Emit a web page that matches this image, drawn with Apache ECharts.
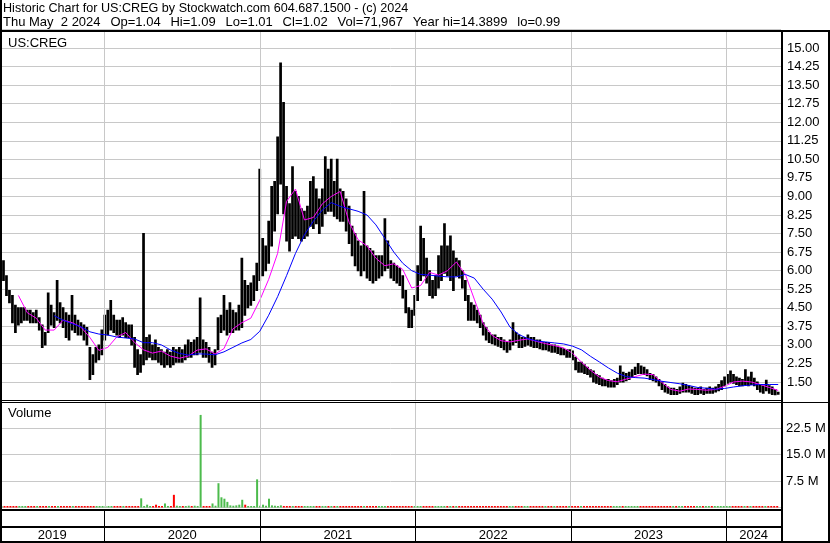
<!DOCTYPE html>
<html><head><meta charset="utf-8">
<script src="https://cdn.jsdelivr.net/npm/echarts@6/dist/echarts.min.js"></script>
<style>html,body{margin:0;padding:0;background:#fff}#c{width:830px;height:543px}</style>
</head><body><div id="c"></div>
<script>
// ---------- data (weekly samples) ----------
const startDate = '2019-05-02';      // first weekly sample
const endDate = '2024-05-02';        // last weekly sample
const yearLabels = ['2019','2020','2021','2022','2023','2024'];
const yearStarts = ['2020-01-01','2021-01-01','2022-01-01','2023-01-01','2024-01-01'];

const high = [6.6,6.4,5.8,5.2,5.0,4.6,4.5,4.5,4.5,4.4,
4.4,4.3,4.4,4.1,3.8,3.5,5.1,4.6,4.3,5.6,
4.7,4.5,4.3,4.2,5.0,4.2,4.0,3.9,3.8,3.7,
2.9,2.6,2.9,3.0,3.6,4.2,4.4,4.8,4.2,4.0,
4.0,4.1,3.9,3.8,3.8,3.3,2.8,2.6,7.5,3.3,
3.4,3.0,3.2,2.9,2.8,2.7,2.8,2.7,2.9,2.8,
2.9,2.8,3.0,3.2,3.1,3.2,3.3,4.9,3.2,3.1,
2.9,2.7,2.8,4.1,4.2,5.0,4.4,4.7,4.4,4.3,
4.6,6.5,5.6,5.4,5.5,5.8,6.3,10.1,7.3,7.0,
8.0,9.4,9.6,11.4,14.39,12.8,9.4,8.7,10.2,9.2,
9.0,8.5,8.4,8.6,9.6,9.8,9.3,8.9,9.3,10.6,
10.1,10.5,9.6,10.5,9.3,9.2,8.9,8.6,7.8,7.5,
7.2,7.0,9.2,7.0,6.9,6.8,6.6,6.6,6.6,8.1,
7.2,6.4,6.3,6.2,6.1,5.8,5.2,4.5,4.4,5.0,
6.2,7.8,7.3,6.5,6.0,5.6,5.8,6.6,7.0,7.9,
7.0,7.4,6.8,6.5,6.4,6.0,5.6,5.0,4.7,4.6,
4.4,4.2,3.9,3.7,3.5,3.4,3.4,3.3,3.3,3.2,
3.1,3.2,3.9,3.5,3.4,3.3,3.3,3.4,3.3,3.3,
3.2,3.2,3.1,3.1,3.1,3.0,3.0,2.95,2.9,2.85,
2.8,2.8,2.75,2.5,2.3,2.3,2.2,2.1,2.0,1.95,
1.8,1.75,1.65,1.6,1.6,1.55,1.6,1.65,2.15,1.9,
1.85,1.9,2.0,2.1,2.25,2.15,2.1,2.0,1.85,1.8,
1.7,1.6,1.5,1.4,1.3,1.25,1.25,1.2,1.3,1.45,
1.4,1.35,1.3,1.25,1.25,1.3,1.2,1.25,1.3,1.25,
1.3,1.4,1.55,1.7,1.8,1.95,1.8,1.7,1.65,1.6,
2.0,1.7,1.9,1.65,1.5,1.4,1.35,1.57,1.35,1.3,
1.2,1.09];

const low = [6.0,5.6,5.0,4.7,3.9,3.5,3.8,3.9,4.0,4.0,
3.9,3.9,3.9,3.6,2.9,3.0,3.5,3.8,3.7,4.0,
3.9,3.7,3.3,3.2,3.6,3.5,3.4,3.4,3.2,3.0,
1.6,1.8,2.3,2.4,2.6,3.2,3.4,3.6,3.5,3.4,
3.3,3.4,3.3,3.3,3.0,2.1,1.8,1.9,2.2,2.4,
2.5,2.4,2.4,2.3,2.2,2.1,2.2,2.1,2.2,2.3,
2.3,2.3,2.4,2.5,2.5,2.6,2.6,2.7,2.5,2.5,
2.3,2.1,2.2,2.8,3.5,3.6,3.4,3.5,3.5,3.6,
3.6,3.7,4.2,4.5,4.6,4.8,5.2,5.6,5.8,6.0,
6.3,7.0,7.6,8.3,9.5,8.3,7.2,6.8,7.3,7.4,
7.3,7.2,7.3,7.4,7.8,7.7,7.9,7.5,7.8,8.3,
8.4,8.4,8.2,8.1,8.0,8.0,7.6,7.1,6.6,6.2,
6.0,5.8,6.0,5.7,5.6,5.5,5.6,5.7,5.8,6.0,
6.1,5.7,5.6,5.5,5.4,4.9,4.3,3.7,3.7,4.2,
4.8,5.6,5.8,5.5,5.0,4.9,5.0,5.3,5.6,5.9,
5.8,5.6,5.2,5.8,5.7,5.3,4.8,4.0,4.0,4.0,
3.9,3.7,3.4,3.2,3.1,3.05,3.0,2.95,2.9,2.8,
2.7,2.8,3.0,3.1,2.9,2.9,2.95,3.0,2.95,2.9,
2.9,2.85,2.8,2.8,2.75,2.7,2.7,2.65,2.6,2.6,
2.5,2.5,2.4,2.0,1.9,1.9,1.85,1.8,1.7,1.5,
1.45,1.4,1.35,1.35,1.3,1.3,1.3,1.4,1.5,1.5,
1.55,1.6,1.7,1.8,1.85,1.85,1.8,1.75,1.6,1.55,
1.5,1.35,1.2,1.1,1.05,1.0,1.0,1.0,1.05,1.1,
1.1,1.1,1.05,1.0,1.0,1.05,1.0,1.05,1.05,1.05,
1.1,1.15,1.2,1.35,1.45,1.5,1.45,1.4,1.35,1.35,
1.4,1.35,1.4,1.35,1.2,1.1,1.05,1.15,1.05,1.0,
0.99,1.01];

// moving averages, one reading every 3rd week
const maFast = [null,null,5.0,4.3,4.08,3.6,3.6,4.0,3.9,3.72,
3.3,2.78,2.9,3.32,3.5,3.1,2.8,2.67,2.75,2.55,
2.46,2.55,2.79,2.84,2.63,2.85,3.65,3.9,4.08,4.8,
5.65,6.7,8.8,9.3,8.05,8.15,8.7,9.0,9.2,7.95,
7.25,7.0,6.5,6.2,6.28,6.05,5.3,5.4,5.93,5.82,
6.0,6.35,5.85,4.85,3.86,3.38,3.17,3.12,3.19,3.24,
3.14,3.05,2.97,2.88,2.66,2.3,1.98,1.7,1.56,1.51,
1.62,1.72,1.82,1.8,1.48,1.2,1.13,1.22,1.2,1.17,
1.2,1.33,1.5,1.54,1.5,1.4,1.28,1.16];

const maSlow = [null,null,null,null,null,null,4.18,4.0,3.86,3.73,
3.53,3.44,3.4,3.32,3.28,3.24,3.09,3.09,3.0,2.8,
2.66,2.59,2.64,2.63,2.6,2.72,2.9,3.08,3.22,3.55,
4.2,4.95,5.8,6.7,7.45,8.0,8.45,8.75,8.6,8.5,
8.4,8.25,7.85,7.3,6.75,6.3,6.0,5.85,5.82,5.78,
5.75,5.75,5.85,5.7,5.25,4.85,4.33,3.72,3.42,3.25,
3.16,3.12,3.08,3.04,2.95,2.8,2.54,2.31,2.07,1.86,
1.72,1.68,1.66,1.6,1.53,1.48,1.43,1.36,1.28,1.25,
1.21,1.24,1.3,1.35,1.38,1.4,1.4,1.4];

// volume in millions
const volume = [0.15,0.2,0.15,0.1,0.15,0.2,0.15,0.1,0.15,0.2,
0.15,0.1,0.15,0.15,0.2,0.15,0.25,0.15,0.1,0.2,
0.15,0.1,0.15,0.2,0.25,0.15,0.1,0.15,0.1,0.15,
0.3,0.4,0.3,0.15,0.2,0.2,0.25,0.3,0.2,0.15,
0.15,0.2,0.15,0.15,0.2,0.3,0.25,2.6,0.4,0.8,
0.3,0.3,0.8,0.3,0.2,1.15,0.3,0.4,3.6,0.5,
0.3,0.25,0.4,0.5,0.3,0.5,0.4,26.3,0.3,0.3,
0.4,1.15,0.5,6.9,2.9,2.5,1.6,0.6,0.5,0.6,
0.8,2.2,0.8,0.4,0.4,0.4,8.0,0.5,0.8,0.5,
2.5,0.6,0.5,0.4,0.6,0.4,0.3,0.3,0.4,0.3,
0.3,0.3,0.4,0.3,0.35,0.3,0.25,0.3,0.25,0.3,
0.25,0.2,0.25,0.2,0.3,0.2,0.25,0.2,0.2,0.3,
0.2,0.25,0.3,0.2,0.2,0.2,0.25,0.2,0.2,0.35,
0.25,0.2,0.2,0.15,0.2,0.2,0.25,0.3,0.2,0.2,
0.25,0.3,0.2,0.2,0.15,0.2,0.2,0.2,0.25,0.3,
0.2,0.2,0.15,0.2,0.15,0.2,0.2,0.25,0.2,0.15,
0.2,0.15,0.2,0.15,0.15,0.2,0.15,0.15,0.2,0.15,
0.15,0.2,0.25,0.15,0.15,0.2,0.15,0.15,0.2,0.15,
0.15,0.2,0.15,0.15,0.15,0.2,0.15,0.15,0.2,0.15,
0.15,0.2,0.15,0.2,0.15,0.15,0.2,0.15,0.15,0.2,
0.15,0.15,0.2,0.15,0.15,0.15,0.2,0.2,0.3,0.2,
0.15,0.15,0.2,0.15,0.2,0.15,0.15,0.2,0.15,0.15,
0.15,0.2,0.15,0.15,0.2,0.15,0.15,0.15,0.2,0.15,
0.15,0.15,0.2,0.15,0.15,0.15,0.2,0.15,0.15,0.15,
0.2,0.15,0.2,0.2,0.25,0.2,0.15,0.15,0.2,0.3,
0.2,0.15,0.2,0.15,0.15,0.2,0.15,0.2,0.15,0.15,
0.15,0.1];
const redVolumeWeeks = [52,58,82];

const headerLine1 = 'Historic Chart for US:CREG by Stockwatch.com 604.687.1500 - (c) 2024';
const headerLine2 = 'Thu May  2 2024  \u2009Op=1.04  \u2009Hi=1.09  \u2009Lo=1.01  \u2009Cl=1.02  \u2009Vol=71,967  \u2009Year hi=14.3899  \u2009lo=0.99';

// ---------- build ----------
const DAY = 864e5;
const t0 = Date.parse(startDate);
const weeks = high.map((_, i) => t0 + i * 7 * DAY);
const xMin = t0 - 1.2 * DAY;
const xMax = Date.parse(endDate) + 6.6 * DAY;
const yearT = yearStarts.map(s => Date.parse(s));
const FONT = '"Liberation Sans", Arial, sans-serif';

const priceData = weeks.map((t, i) => [t, low[i], high[i]]);
const mid = high.map((h, i) => (h + low[i]) / 2);
const volData = weeks.map((t, i) => {
  const down = redVolumeWeeks.includes(i) || (volume[i] < 0.5 && i > 0 && mid[i] < mid[i - 1]);
  return {value: [t, volume[i]], itemStyle: {color: down ? '#ff0000' : '#4cbb4c'}};
});
const maPts = arr => arr.map((v, k) => v == null ? null : [weeks[k * 3], v]).filter(p => p);

const bounds = [xMin].concat(yearT, [xMax]);
const yearAreas = yearLabels.map((y, i) => [{xAxis: bounds[i], name: y}, {xAxis: bounds[i + 1]}]);
const vLines = (color) => ({
  silent: true, symbol: ['none', 'none'], label: {show: false}, animation: false,
  lineStyle: {color: color, width: 1, type: 'solid'},
  data: yearT.map(t => ({xAxis: t}))
});

const gridBase = {left: 0, width: 781, outerBoundsMode: 'none', containLabel: false, show: false};
const chart = echarts.init(document.getElementById('c'), null, {renderer: 'canvas'});
chart.setOption({
  animation: false,
  useUTC: true,
  backgroundColor: '#ffffff',
  grid: [
    Object.assign({top: 29.4, height: 371.2}, gridBase),
    Object.assign({top: 401.9, height: 105.6}, gridBase),
    Object.assign({top: 511, height: 15}, gridBase),
    Object.assign({top: 528, height: 13}, gridBase)
  ],
  xAxis: [0, 1, 2, 3].map(g => ({type: 'time', gridIndex: g, min: xMin, max: xMax, show: false})),
  yAxis: [
    {type: 'value', gridIndex: 0, position: 'right', min: 0.75, max: 15.75, interval: 0.75,
     axisLine: {show: false}, axisTick: {show: false},
     splitLine: {show: true, lineStyle: {color: '#c8c8c8', width: 1}},
     axisLabel: {show: true, margin: 6, color: '#000', fontSize: 13, fontFamily: FONT, interval: 0,
       showMinLabel: false, showMaxLabel: false, formatter: v => v.toFixed(2)}},
    {type: 'value', gridIndex: 1, position: 'right', min: 0, max: 30, interval: 7.5,
     axisLine: {show: false}, axisTick: {show: false},
     splitLine: {show: true, lineStyle: {color: '#c8c8c8', width: 1}},
     axisLabel: {show: true, margin: 5, color: '#000', fontSize: 13, fontFamily: FONT, interval: 0,
       showMinLabel: false, showMaxLabel: false, formatter: v => v.toFixed(1) + ' M'}},
    {type: 'value', gridIndex: 2, min: 0, max: 1, show: false},
    {type: 'value', gridIndex: 3, min: 0, max: 1, show: false}
  ],
  series: [
    {type: 'line', xAxisIndex: 0, yAxisIndex: 0, data: [], z: 1, markLine: vLines('#c8c8c8')},
    {type: 'custom', xAxisIndex: 0, yAxisIndex: 0, z: 3, clip: true,
     encode: {x: 0, y: [1, 2]}, data: priceData,
     renderItem: function (params, api) {
       const a = api.coord([api.value(0), api.value(1)]);
       const b = api.coord([api.value(0), api.value(2)]);
       return {type: 'line', shape: {x1: a[0], y1: a[1] + 0.5, x2: b[0], y2: b[1] - 0.5},
               style: {stroke: '#000', lineWidth: 2.7}};
     }},
    {type: 'line', xAxisIndex: 0, yAxisIndex: 0, z: 4, data: maPts(maFast), symbol: 'none',
     lineStyle: {color: '#ff00ff', width: 1}, itemStyle: {color: '#ff00ff'}},
    {type: 'line', xAxisIndex: 0, yAxisIndex: 0, z: 5, data: maPts(maSlow), symbol: 'none',
     lineStyle: {color: '#0000ff', width: 1}, itemStyle: {color: '#0000ff'}},
    {type: 'line', xAxisIndex: 1, yAxisIndex: 1, data: [], z: 1, markLine: vLines('#c8c8c8')},
    {type: 'bar', xAxisIndex: 1, yAxisIndex: 1, z: 3, data: volData, barWidth: 2, barMinHeight: 1.5},
    {type: 'line', xAxisIndex: 2, yAxisIndex: 2, data: [], z: 2, markLine: vLines('#000')},
    {type: 'line', xAxisIndex: 3, yAxisIndex: 3, data: [], z: 2, markLine: vLines('#000'),
     markArea: {silent: true, itemStyle: {color: 'rgba(0,0,0,0)'},
       label: {show: true, position: 'inside', color: '#000', fontSize: 13, fontFamily: FONT, offset: [0, 1]},
       data: yearAreas}}
  ],
  graphic: [
    {type: 'text', x: 3, y: 8.5, z: 100, style: {text: headerLine1, font: '12.6px ' + FONT, fill: '#000', verticalAlign: 'middle'}},
    {type: 'text', x: 3, y: 22, z: 100, style: {text: headerLine2, font: '13px ' + FONT, fill: '#000', verticalAlign: 'middle'}},
    {type: 'text', x: 8, y: 43, z: 100, style: {text: 'US:CREG', font: '13px ' + FONT, fill: '#000', verticalAlign: 'middle'}},
    {type: 'text', x: 8, y: 413, z: 100, style: {text: 'Volume', font: '13px ' + FONT, fill: '#000', verticalAlign: 'middle'}},
    {type: 'rect', z: 100, shape: {x: 0, y: 30, width: 830, height: 2}, style: {fill: '#000'}},
    {type: 'rect', z: 100, shape: {x: 0, y: 0, width: 2, height: 543}, style: {fill: '#000'}},
    {type: 'rect', z: 100, shape: {x: 781, y: 30, width: 2, height: 513}, style: {fill: '#000'}},
    {type: 'rect', z: 100, shape: {x: 0, y: 400, width: 782, height: 1}, style: {fill: '#000'}},
    {type: 'rect', z: 100, shape: {x: 0, y: 402, width: 830, height: 1}, style: {fill: '#000'}},
    {type: 'rect', z: 100, shape: {x: 0, y: 509, width: 782, height: 2}, style: {fill: '#000'}},
    {type: 'rect', z: 100, shape: {x: 0, y: 526, width: 782, height: 2}, style: {fill: '#000'}},
    {type: 'rect', z: 100, shape: {x: 0, y: 541, width: 830, height: 2}, style: {fill: '#000'}},
    {type: 'rect', z: 100, shape: {x: 828, y: 30, width: 2, height: 513}, style: {fill: '#000'}}
  ]
});
</script></body></html>
